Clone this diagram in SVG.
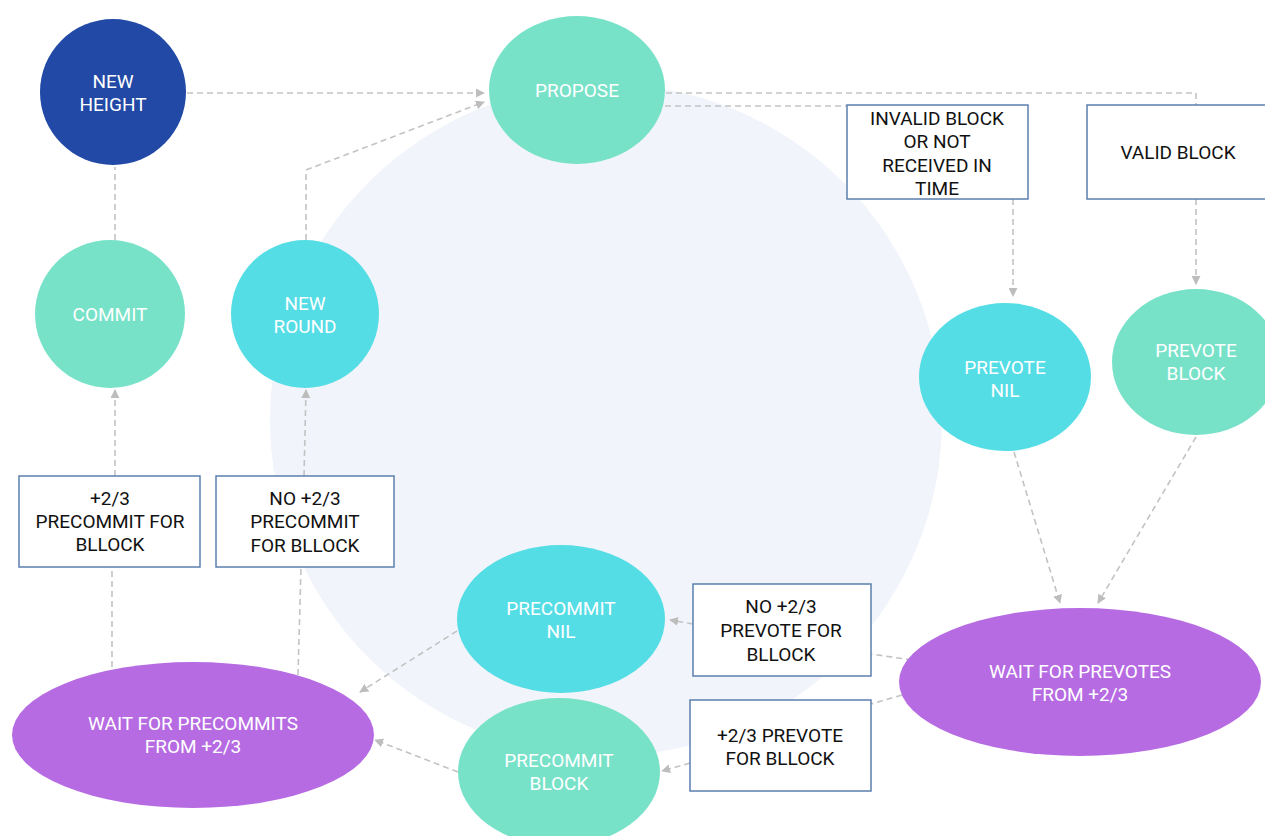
<svg xmlns="http://www.w3.org/2000/svg" width="1265" height="836" viewBox="0 0 1265 836">
<style>
.bg{fill:#f1f4fa}
.wt{font-family:Roboto,"Noto Sans",sans-serif;font-size:19px;fill:#ffffff;text-anchor:middle}
.bt{font-family:Roboto,"Noto Sans",sans-serif;font-size:19px;fill:#111111;text-anchor:middle}
.box{fill:#ffffff;stroke:#5b7fae;stroke-width:1.5}
.c{fill:none;stroke:#c3c3c3;stroke-width:1.6;stroke-dasharray:6 4}
.teal{fill:#78e2c9}
.cyan{fill:#55dde6}
.purple{fill:#b66be2}
.navy{fill:#2149a5}
</style>
<defs>
<marker id="ah" viewBox="0 0 10 10" refX="9" refY="5" markerWidth="9" markerHeight="9" markerUnits="userSpaceOnUse" orient="auto">
<path d="M0,0 L10,5 L0,10 z" fill="#bdbdbd"/>
</marker>
</defs>
<rect width="1265" height="836" fill="#ffffff"/>
<circle class="bg" cx="606" cy="420" r="336"/>

<g id="connectors">
<line class="c" x1="187" y1="93" x2="484" y2="93" marker-end="url(#ah)"/>
<polyline class="c" points="306,240 306,170 484,102" marker-end="url(#ah)"/>
<line class="c" x1="115" y1="240" x2="115" y2="167"/>
<polyline class="c" points="666,93 1196,93 1196,105"/>
<line class="c" x1="645" y1="106" x2="847" y2="106"/>
<line class="c" x1="1013" y1="199" x2="1013" y2="296" marker-end="url(#ah)"/>
<line class="c" x1="1196" y1="199" x2="1196" y2="284" marker-end="url(#ah)"/>
<line class="c" x1="1014" y1="452" x2="1060" y2="603" marker-end="url(#ah)"/>
<line class="c" x1="1196" y1="437" x2="1098" y2="603" marker-end="url(#ah)"/>
<line class="c" x1="912" y1="660" x2="871" y2="654"/>
<line class="c" x1="693" y1="624" x2="670" y2="620" marker-end="url(#ah)"/>
<line class="c" x1="902" y1="695" x2="871" y2="704"/>
<line class="c" x1="690" y1="763" x2="662" y2="771" marker-end="url(#ah)"/>
<line class="c" x1="457" y1="631" x2="360" y2="692" marker-end="url(#ah)"/>
<line class="c" x1="458" y1="772" x2="375" y2="740" marker-end="url(#ah)"/>
<line class="c" x1="112" y1="667" x2="112" y2="567"/>
<line class="c" x1="115" y1="476" x2="115" y2="390" marker-end="url(#ah)"/>
<line class="c" x1="298" y1="675" x2="301" y2="567"/>
<line class="c" x1="304" y1="476" x2="306" y2="390" marker-end="url(#ah)"/>
</g>

<g id="new-height">
<circle class="navy" cx="113" cy="92" r="73"/>
<text class="wt" x="113" y="88">NEW</text>
<text class="wt" x="113" y="111">HEIGHT</text>
</g>
<g id="propose">
<ellipse class="teal" cx="577" cy="90" rx="88" ry="74"/>
<text class="wt" x="577" y="97">PROPOSE</text>
</g>
<g id="commit">
<ellipse class="teal" cx="110" cy="314" rx="75" ry="74"/>
<text class="wt" x="110" y="321">COMMIT</text>
</g>
<g id="new-round">
<circle class="cyan" cx="305" cy="314" r="74"/>
<text class="wt" x="305" y="310">NEW</text>
<text class="wt" x="305" y="333">ROUND</text>
</g>
<g id="invalid-block">
<rect class="box" x="847" y="105" width="181" height="94"/>
<text class="bt" x="937" y="125">INVALID BLOCK</text>
<text class="bt" x="937" y="148">OR NOT</text>
<text class="bt" x="937" y="172">RECEIVED IN</text>
<text class="bt" x="937" y="195">TIME</text>
</g>
<g id="valid-block">
<rect class="box" x="1087" y="105" width="183" height="94"/>
<text class="bt" x="1178" y="159">VALID BLOCK</text>
</g>
<g id="prevote-nil">
<ellipse class="cyan" cx="1005" cy="377" rx="86" ry="74"/>
<text class="wt" x="1005" y="374">PREVOTE</text>
<text class="wt" x="1005" y="397">NIL</text>
</g>
<g id="prevote-block">
<ellipse class="teal" cx="1196" cy="362" rx="84" ry="73"/>
<text class="wt" x="1196" y="357">PREVOTE</text>
<text class="wt" x="1196" y="380">BLOCK</text>
</g>
<g id="wait-prevotes">
<ellipse class="purple" cx="1080" cy="682" rx="181" ry="74"/>
<text class="wt" x="1080" y="678">WAIT FOR PREVOTES</text>
<text class="wt" x="1080" y="701">FROM +2/3</text>
</g>
<g id="no-prevote-box">
<rect class="box" x="693" y="584" width="178" height="92"/>
<text class="bt" x="781" y="613">NO +2/3</text>
<text class="bt" x="781" y="637">PREVOTE FOR</text>
<text class="bt" x="781" y="661">BLLOCK</text>
</g>
<g id="prevote-box">
<rect class="box" x="690" y="700" width="181" height="91"/>
<text class="bt" x="780" y="742">+2/3 PREVOTE</text>
<text class="bt" x="780" y="765">FOR BLLOCK</text>
</g>
<g id="precommit-nil">
<ellipse class="cyan" cx="561" cy="619" rx="104" ry="74"/>
<text class="wt" x="561" y="615">PRECOMMIT</text>
<text class="wt" x="561" y="638">NIL</text>
</g>
<g id="precommit-block">
<ellipse class="teal" cx="559" cy="772" rx="101" ry="74"/>
<text class="wt" x="559" y="767">PRECOMMIT</text>
<text class="wt" x="559" y="790">BLOCK</text>
</g>
<g id="wait-precommits">
<ellipse class="purple" cx="193" cy="735" rx="181" ry="73"/>
<text class="wt" x="193" y="730">WAIT FOR PRECOMMITS</text>
<text class="wt" x="193" y="753">FROM +2/3</text>
</g>
<g id="precommit-box">
<rect class="box" x="19" y="476" width="181" height="91"/>
<text class="bt" x="110" y="505">+2/3</text>
<text class="bt" x="110" y="528">PRECOMMIT FOR</text>
<text class="bt" x="110" y="551">BLLOCK</text>
</g>
<g id="no-precommit-box">
<rect class="box" x="216" y="476" width="178" height="91"/>
<text class="bt" x="305" y="505">NO +2/3</text>
<text class="bt" x="305" y="528">PRECOMMIT</text>
<text class="bt" x="305" y="552">FOR BLLOCK</text>
</g>
</svg>
